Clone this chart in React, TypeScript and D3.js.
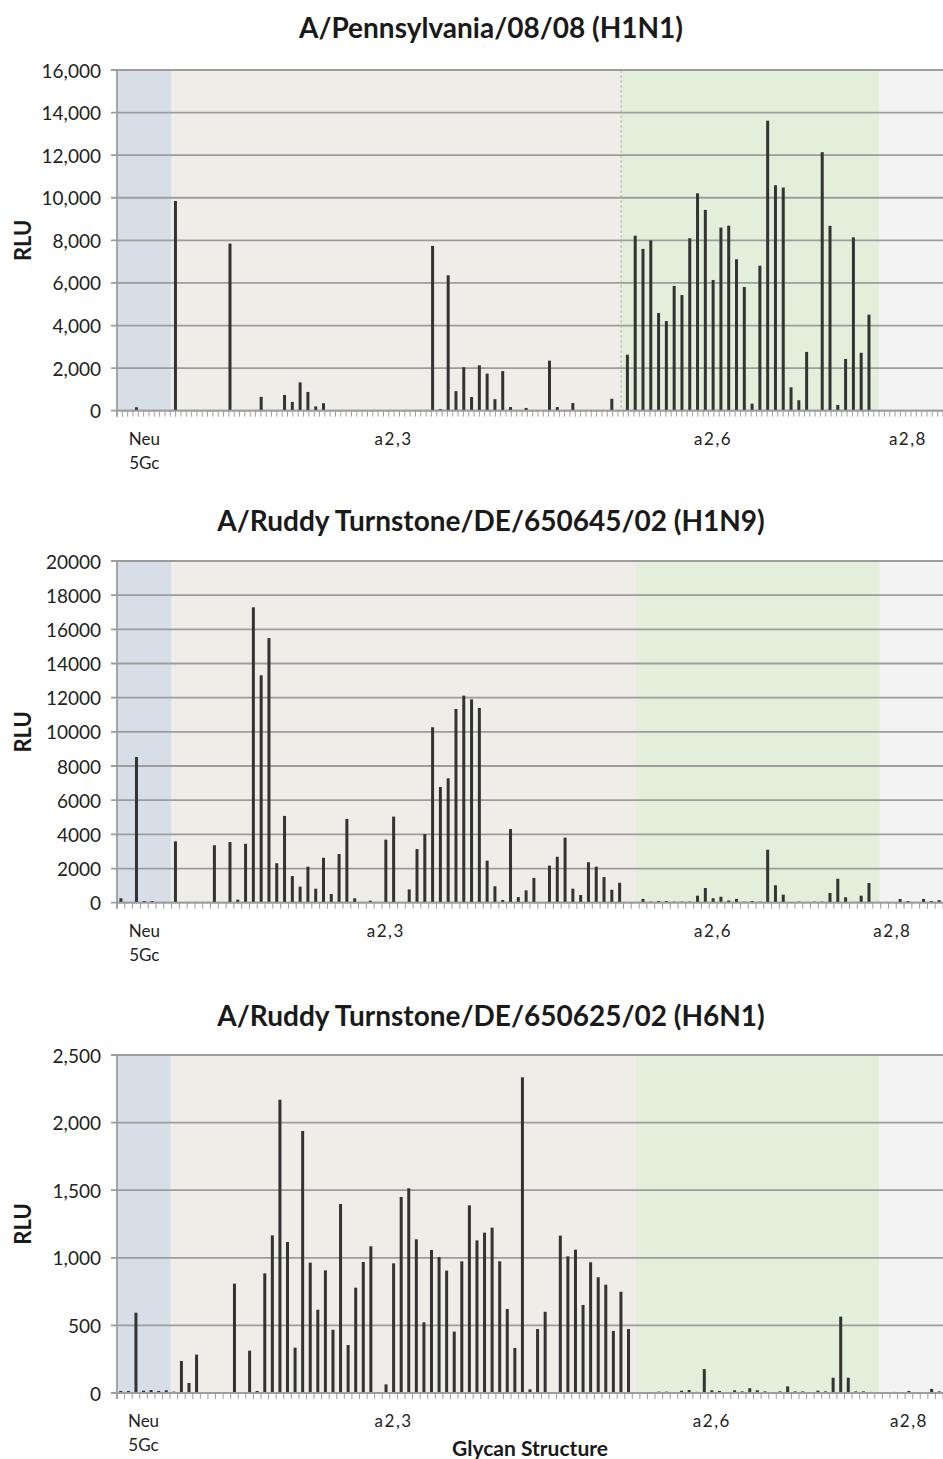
import React from 'react';
import * as d3 from 'd3';

// glycan array RLU readings, one value per glycan position
const titles = [
  'A/Pennsylvania/08/08 (H1N1)',
  'A/Ruddy Turnstone/DE/650645/02 (H1N9)',
  'A/Ruddy Turnstone/DE/650625/02 (H6N1)',
];

const pennH1N1 = [
  0, 0, 160, 0, 0, 0, 0, 9850, 0, 0,
  0, 0, 0, 0, 7850, 0, 0, 0, 650, 0,
  0, 740, 410, 1330, 880, 200, 350, 0, 0, 0,
  0, 0, 0, 0, 0, 0, 0, 0, 0, 0,
  7740, 80, 6360, 920, 2040, 640, 2130, 1740, 540, 1860,
  170, 0, 130, 0, 0, 2350, 170, 0, 360, 0,
  0, 0, 0, 560, 0, 2630, 8220, 7600, 8000, 4590,
  4210, 5860, 5430, 8100, 10210, 9430, 6140, 8600, 8690, 7110,
  5810, 330, 6810, 13620, 10590, 10480, 1100, 490, 2760, 0,
  12140, 8680, 270, 2430, 8140, 2720, 4510, 0, 0, 0,
  0, 0, 0, 0, 0, 0,
];

const turnstoneH1N9 = [
  260, 0, 8530, 100, 100, 0, 30, 3590, 20, 0,
  0, 20, 3360, 0, 3550, 180, 3450, 17290, 13310, 15490,
  2310, 5080, 1560, 940, 2110, 820, 2630, 510, 2850, 4900,
  260, 0, 120, 0, 3690, 5040, 30, 780, 3140, 4020,
  10270, 6770, 7280, 11340, 12120, 11900, 11400, 2460, 960, 160,
  4310, 330, 720, 1450, 0, 2170, 2690, 3810, 820, 450,
  2370, 2110, 1500, 760, 1170, 0, 40, 220, 60, 100,
  100, 60, 60, 60, 410, 860, 260, 350, 130, 220,
  60, 100, 60, 3100, 1020, 470, 0, 60, 0, 60,
  60, 570, 1400, 320, 0, 410, 1150, 0, 0, 0,
  220, 100, 0, 220, 100, 150,
];

const turnstoneH6N1 = [
  15, 15, 594, 17, 22, 15, 20, 10, 237, 74,
  284, 5, 5, 0, 0, 809, 0, 313, 15, 885,
  1166, 2169, 1117, 335, 1938, 964, 616, 907, 468, 1398,
  355, 779, 969, 1085, 5, 64, 959, 1450, 1514, 1137,
  523, 1058, 1006, 905, 454, 974, 1388, 1129, 1186, 1223,
  974, 621, 333, 2335, 27, 473, 601, 0, 1164, 1011,
  1060, 651, 967, 856, 801, 459, 749, 473, 0, 5,
  0, 10, 10, 0, 17, 22, 8, 177, 20, 15,
  0, 20, 12, 35, 20, 12, 0, 12, 49, 12,
  12, 0, 17, 12, 113, 565, 113, 12, 12, 8,
  5, 0, 8, 0, 15, 0, 0, 30, 12,
];

const yTicksH1N1 = [0, 2000, 4000, 6000, 8000, 10000, 12000, 14000, 16000];
const yTicksH1N9 = [0, 2000, 4000, 6000, 8000, 10000, 12000, 14000, 16000, 18000, 20000];
const yTicksH6N1 = [0, 500, 1000, 1500, 2000, 2500];

// linkage groups: label and where it sits (glycan index), band edges in glycan units
const groupLabels = [['Neu', '5Gc'], ['a2,3'], ['a2,6'], ['a2,8']];
const groupLabelAt = [
  [3, 35, 76, 101],
  [3, 34, 76, 99],
  [3, 36, 78, 104],
];
const groupEdges = [
  [0, 7, 64.7, 97.8, 106],
  [0, 7, 66.5, 97.9, 106],
  [0, 7.1, 68.4, 100.6, 109],
];
const groupColors = ['#d7dee8', '#efede7', '#e3eedb', '#f3f3f3'];

const W = 943;
const H = 1459;
const left = 117;
const right = 943;
const font = 'Lato, "Open Sans", sans-serif';

const panels = [
  { title: titles[0], values: pennH1N1, ticks: yTicksH1N1, fmt: d3.format(','), top: 70, bottom: 410.7, titleY: 27, tickCount: 155, dashed: true },
  { title: titles[1], values: turnstoneH1N9, ticks: yTicksH1N9, fmt: d3.format('d'), top: 561, bottom: 902.7, titleY: 520, tickCount: 106, dashed: false },
  { title: titles[2], values: turnstoneH6N1, ticks: yTicksH6N1, fmt: d3.format(','), top: 1055, bottom: 1393, titleY: 1015, tickCount: 109, dashed: false },
];

const Panel = ({ p, k }) => {
  const n = p.values.length;
  const x = d3.scaleBand().domain(d3.range(n)).range([left, right]).padding(0);
  const xl = d3.scaleLinear().domain([0, n]).range([left, right]);
  const xt = d3.scaleLinear().domain([0, p.tickCount]).range([left, right]);
  const y = d3.scaleLinear().domain([0, d3.max(p.ticks)]).range([p.bottom, p.top]);
  const edges = groupEdges[k];
  const barW = 3;
  const grid = '#9d9d9d';

  return (
    <g>
      <text x={491} y={p.titleY} textAnchor="middle" dominantBaseline="central"
        fontFamily={font} fontWeight="bold" fontSize={28} fill="#1a1a1a">{p.title}</text>

      {groupColors.map((c, i) => (
        <rect key={i} x={xl(edges[i])} y={p.top} width={xl(edges[i + 1]) - xl(edges[i])}
          height={p.bottom - p.top} fill={c} />
      ))}
      {p.dashed && (
        <line x1={xl(edges[2])} x2={xl(edges[2])} y1={p.top} y2={p.bottom}
          stroke="#b5b5b5" strokeWidth={1} strokeDasharray="3,2" />
      )}

      {p.ticks.map((t) => (
        <g key={t}>
          <line x1={left - 6} x2={right} y1={y(t)} y2={y(t)} stroke={grid} strokeWidth={1.8} />
          <text x={101} y={y(t)} textAnchor="end" dominantBaseline="central"
            fontFamily={font} fontSize={19} fill="#222">{p.fmt(t)}</text>
        </g>
      ))}

      {p.values.map((v, i) => (
        <rect key={i} x={x(i) + x.bandwidth() / 2 - barW / 2} y={y(v)}
          width={barW} height={p.bottom - y(v)} fill="#333" />
      ))}

      <line x1={left} x2={left} y1={p.top} y2={p.bottom + 6} stroke={grid} strokeWidth={1.8} />
      <line x1={left} x2={right} y1={p.bottom} y2={p.bottom} stroke={grid} strokeWidth={1.8} />
      {d3.range(p.tickCount + 1).map((t) => (
        <line key={t} x1={xt(t)} x2={xt(t)} y1={p.bottom} y2={p.bottom + 6} stroke={grid} strokeWidth={1} />
      ))}

      {groupLabels.map((lines, i) => (
        <text key={i} x={x(groupLabelAt[k][i]) + x.bandwidth() / 2} y={p.bottom + 27}
          textAnchor="middle" dominantBaseline="central" fontFamily={font} fontSize={17}
          fill="#222" letterSpacing={i > 0 ? 1.5 : 0}>
          {lines.map((s, j) => (
            <tspan key={j} x={x(groupLabelAt[k][i]) + x.bandwidth() / 2} dy={j === 0 ? 0 : 24}>{s}</tspan>
          ))}
        </text>
      ))}

      <text transform={`translate(22,${(p.top + p.bottom) / 2}) rotate(-90)`} textAnchor="middle"
        dominantBaseline="central" fontFamily={font} fontWeight="bold" fontSize={22} fill="#1a1a1a">RLU</text>
    </g>
  );
};

export default function App() {
  return (
    <svg width={W} height={H} style={{ position: 'absolute', left: 0, top: 0, background: '#fff' }}>
      <rect width={W} height={H} fill="#fff" />
      {panels.map((p, k) => <Panel key={k} p={p} k={k} />)}
      <text x={530} y={1447} textAnchor="middle" dominantBaseline="central"
        fontFamily={font} fontWeight="bold" fontSize={21} fill="#1a1a1a">Glycan Structure</text>
    </svg>
  );
}
